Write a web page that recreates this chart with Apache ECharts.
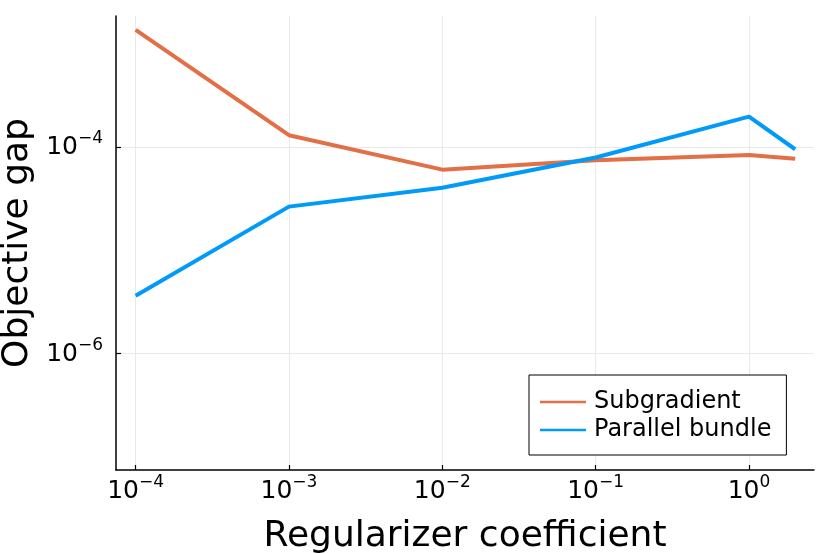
<!DOCTYPE html>
<html>
	<head>
		<meta charset="UTF-8">
		<title>Objective gap vs regularizer</title>
		<script src="https://cdn.jsdelivr.net/npm/echarts@6/dist/echarts.min.js"></script>
		<style>
			html, body { margin: 0; padding: 0; background: #fff; }
		</style>
	</head>
	<body>
		<div id="chart" style="width:830px; height:554px;"></div>
		<script>
			// regularizer coefficients (x) and objective gaps
			var coefficients = [1e-4, 1e-3, 1e-2, 1e-1, 1, 2];
			var subgradient = [1.37e-3, 1.31e-4, 6.07e-5, 7.48e-5, 8.42e-5, 7.76e-5];
			var parallelBundle = [3.65e-6, 2.66e-5, 4.06e-5, 7.96e-5, 1.98e-4, 9.57e-5];
			var xTicks = [1e-4, 1e-3, 1e-2, 1e-1, 1];
			var yTicks = [1e-6, 1e-4];

			var font = 'DejaVu Sans';

			function pairs(xs, ys) {
				return xs.map(function (x, i) { return [x, ys[i]]; });
			}

			function powLabel(v) {
				var e = Math.round(Math.log10(v));
				var s = e < 0 ? '\u2212' + (-e) : String(e);
				return '{b|10}{s|' + s + '}';
			}

			var rich = {
				b: { fontFamily: font, fontSize: 25, lineHeight: 26, color: '#000', verticalAlign: 'bottom' },
				s: { fontFamily: font, fontSize: 17, lineHeight: 17, color: '#000', verticalAlign: 'bottom', padding: [0, 0, 13, 0] }
			};

			var chart = echarts.init(document.getElementById('chart'), null, { renderer: 'canvas' });
			chart.setOption({
				animation: false,
				backgroundColor: '#fff',
				grid: { left: 116, right: 16, top: 16, bottom: 84, containLabel: false, outerBoundsMode: 'none' },
				legend: {
					orient: 'vertical',
					left: 529,
					top: 375,
					padding: [15, 15, 13, 11],
					itemWidth: 46,
					itemHeight: 2.5,
					itemGap: 4,
					icon: 'rect',
					borderColor: '#000',
					borderWidth: 1,
					borderRadius: 0,
					backgroundColor: '#fff',
					textStyle: { fontFamily: font, fontSize: 24, color: '#000', padding: [0, 0, 0, 3] },
					data: ['Subgradient', 'Parallel bundle']
				},
				xAxis: {
					type: 'log',
					min: Math.pow(10, -4.128),
					max: Math.pow(10, 0.424),
					name: 'Regularizer coefficient',
					nameLocation: 'middle',
					nameGap: 49,
					nameTextStyle: { fontFamily: font, fontSize: 36, color: '#000' },
					axisLine: { onZero: false, lineStyle: { color: '#000', width: 1.5 } },
					axisTick: { inside: true, length: 5, customValues: xTicks, lineStyle: { color: '#000', width: 1.2 } },
					axisLabel: { customValues: xTicks, margin: 8, formatter: powLabel, rich: rich },
					splitLine: { show: true, lineStyle: { color: '#e9e9e9', width: 1 } },
					minorTick: { show: false }
				},
				yAxis: {
					type: 'log',
					min: Math.pow(10, -7.127),
					max: Math.pow(10, -2.728),
					name: 'Objective gap',
					nameLocation: 'middle',
					nameGap: 69,
					nameTextStyle: { fontFamily: font, fontSize: 36, color: '#000' },
					axisLine: { onZero: false, lineStyle: { color: '#000', width: 1.5 } },
					axisTick: { inside: true, length: 5, customValues: yTicks, lineStyle: { color: '#000', width: 1.2 } },
					axisLabel: { customValues: yTicks, margin: 13, formatter: powLabel, rich: rich },
					splitLine: { show: true, lineStyle: { color: '#e9e9e9', width: 1 } }
				},
				series: [
					{
						name: 'Subgradient',
						type: 'line',
						symbol: 'none',
						color: '#e26f46',
						lineStyle: { width: 4, color: '#e26f46' },
						data: pairs(coefficients, subgradient)
					},
					{
						name: 'Parallel bundle',
						type: 'line',
						symbol: 'none',
						color: '#009afa',
						lineStyle: { width: 4, color: '#009afa' },
						data: pairs(coefficients, parallelBundle)
					}
				]
			});
		</script>
	</body>
</html>
